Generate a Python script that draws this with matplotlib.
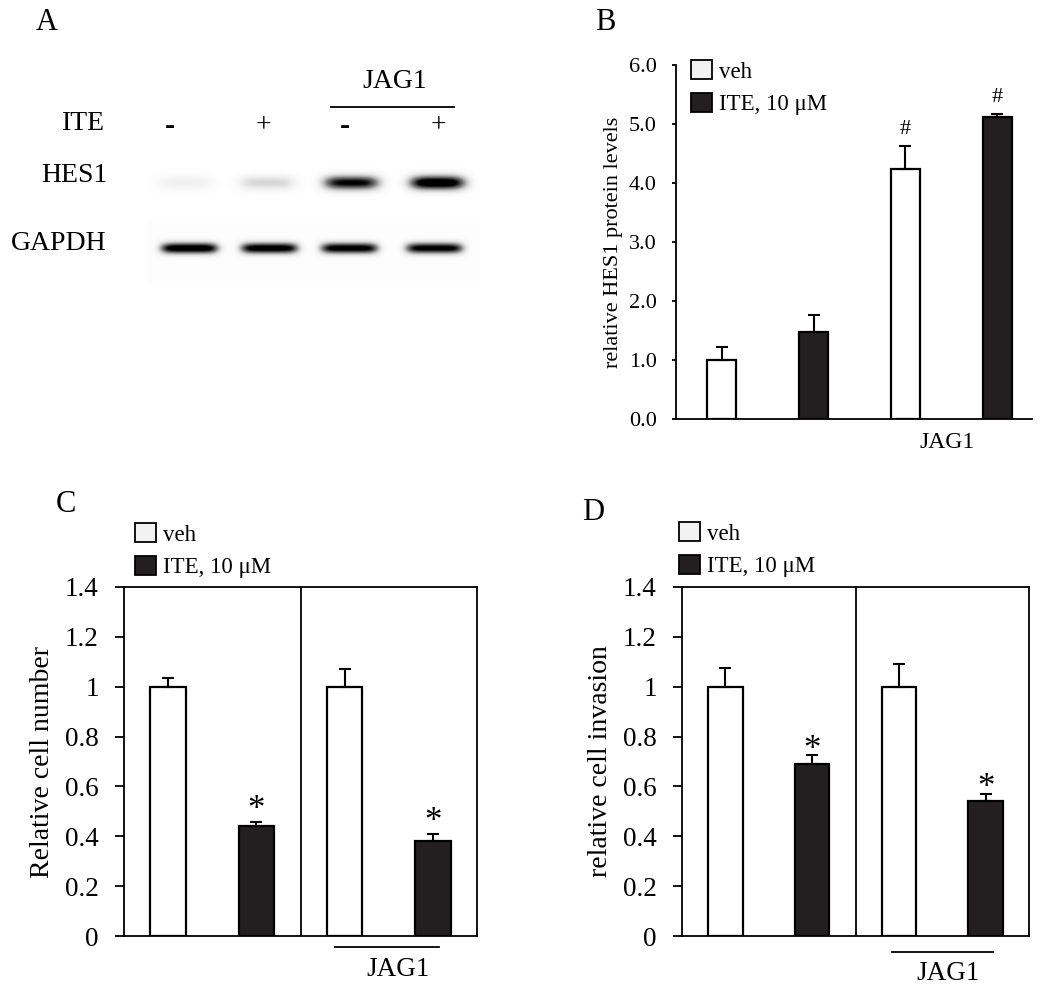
import numpy as np
import matplotlib
matplotlib.use('Agg')
import matplotlib.pyplot as plt
from matplotlib.patches import Patch
from matplotlib.lines import Line2D

plt.rcParams['font.family'] = ['Liberation Serif', 'DejaVu Serif']

W, H = 1050, 1001

# Panel A: western blot, band strengths (0 = no band, 1 = saturated)
ite_signs = ['-', '+', '-', '+']
hes1_strength = [0.10, 0.22, 0.85, 1.0]
gapdh_strength = [0.95, 0.92, 0.90, 0.88]
blot_rows = ['HES1', 'GAPDH']

# Panel B: relative HES1 protein levels
b_veh = [1.0, 4.24]
b_veh_err = [0.22, 0.39]
b_ite = [1.48, 5.12]
b_ite_err = [0.29, 0.05]
b_ticks = [0, 1, 2, 3, 4, 5, 6]

# Panel C: relative cell number
c_veh = [1.0, 1.0]
c_veh_err = [0.035, 0.07]
c_ite = [0.44, 0.38]
c_ite_err = [0.018, 0.028]

# Panel D: relative cell invasion
d_veh = [1.0, 1.0]
d_veh_err = [0.075, 0.09]
d_ite = [0.69, 0.54]
d_ite_err = [0.036, 0.03]

cd_ticks = [0, 0.2, 0.4, 0.6, 0.8, 1.0, 1.2, 1.4]
cd_ticklabels = ['0', '0.2', '0.4', '0.6', '0.8', '1', '1.2', '1.4']
legend_labels = ['veh', 'ITE, 10 \u03bcM']

DARK = '#231f20'


def fx(x):
    return x / W


def fy(y):
    return 1 - y / H


def axes_px(left, top, right, bottom):
    return fig.add_axes([left / W, 1 - bottom / H, (right - left) / W, (bottom - top) / H])


def fig_text(x, y, s, size, **kw):
    fig.text(fx(x), fy(y), s, fontsize=size, ha=kw.pop('ha', 'center'), va=kw.pop('va', 'center'), **kw)


def fig_line(x0, x1, y):
    fig.add_artist(Line2D([fx(x0), fx(x1)], [fy(y), fy(y)], color='black', lw=1.3,
                          transform=fig.transFigure))


def draw_bars(ax, veh, veh_err, ite, ite_err, width):
    veh_x = np.array([0, 2])
    ite_x = np.array([1, 3])
    ax.bar(veh_x, veh, width=width, color='white', edgecolor='black', lw=1.6, zorder=2)
    ax.bar(ite_x, ite, width=width, color=DARK, edgecolor='black', lw=1.6, zorder=2)
    for xs, ys, es in [(veh_x, veh, veh_err), (ite_x, ite, ite_err)]:
        ax.errorbar(xs, ys, yerr=[np.zeros(len(ys)), es], fmt='none', ecolor='black',
                    elinewidth=1.5, capsize=4, capthick=1.5, zorder=3)
    return veh_x, ite_x


def add_legend(ax, x, y, size):
    handles = [Patch(facecolor='#f2f2f2', edgecolor='black', lw=1.3),
               Patch(facecolor=DARK, edgecolor='black', lw=1.3)]
    ax.legend(handles, legend_labels, loc='upper left', bbox_to_anchor=(fx(x), fy(y)),
              bbox_transform=fig.transFigure, frameon=False, fontsize=size,
              handlelength=0.92, handleheight=0.92, handletextpad=0.3,
              labelspacing=0.45, borderpad=0, borderaxespad=0)


fig = plt.figure(figsize=(W / 100, H / 100), dpi=100)

# ---------------- Panel A ----------------
axA = axes_px(0, 0, 520, 300)
axA.set_xlim(0, 520)
axA.set_ylim(300, 0)
axA.axis('off')

hes1_x = [185, 267, 351, 437]
gapdh_x = [189, 269, 349, 434]
gx, gy = np.meshgrid(np.arange(140, 490), np.arange(150, 290))
blot = np.zeros(gx.shape)
blot[(gx > 147) & (gx < 480) & (gy > 218) & (gy < 285)] = 0.012
for cx, s in zip(hes1_x, hes1_strength):
    blot += s * np.exp(-((gx - cx) / 28) ** 4) * np.exp(-((gy - 183) / 7) ** 2)
for cx, s in zip(gapdh_x, gapdh_strength):
    blot += s * np.exp(-((gx - cx) / 29) ** 6) * np.exp(-((gy - 248) / 5.5) ** 2)
axA.imshow(np.clip(blot * 1.2, 0, 1), cmap='Greys', vmin=0, vmax=1,
           extent=(140, 490, 290, 150), aspect='auto', interpolation='bilinear')

axA.text(47, 23, 'A', fontsize=22, ha='center', va='center')
axA.text(395, 82, 'JAG1', fontsize=20, ha='center', va='center')
axA.plot([331, 454], [107, 107], color='black', lw=1.3)
axA.text(105, 123, 'ITE', fontsize=20, ha='right', va='center')
sign_x = [170, 263, 345, 438]
for sx, sign in zip(sign_x, ite_signs):
    if sign == '-':
        axA.text(sx, 127, '-', fontsize=22, fontweight='bold', ha='center', va='center')
    else:
        axA.text(sx, 126, '+', fontsize=20, ha='center', va='center')
axA.text(108, 175, blot_rows[0], fontsize=20, ha='right', va='center')
axA.text(107, 243, blot_rows[1], fontsize=20, ha='right', va='center')

# ---------------- Panel B ----------------
axB = axes_px(676, 65, 1032, 419)
veh_x, ite_x = draw_bars(axB, b_veh, b_veh_err, b_ite, b_ite_err, 0.315)
axB.set_xlim(-0.5, 3.38)
axB.set_ylim(0, 6)
axB.set_yticks(b_ticks)
axB.set_yticklabels(['%.1f' % t for t in b_ticks])
axB.set_xticks([])
for side in ['top', 'right']:
    axB.spines[side].set_visible(False)
for side in ['left', 'bottom']:
    axB.spines[side].set_linewidth(1.3)
axB.tick_params(axis='y', direction='out', length=3, width=1.3, labelsize=16, pad=11)
axB.set_ylabel('relative HES1 protein levels', fontsize=16)
axB.yaxis.set_label_coords(-0.15, 0.5)
for x, v, e in [(veh_x[1], b_veh[1], b_veh_err[1]), (ite_x[1], b_ite[1], b_ite_err[1])]:
    axB.text(x, v + e + 0.12, '#', fontsize=16, ha='center', va='bottom')
add_legend(axB, 691, 60, 16.5)
fig_text(947, 443, 'JAG1', 17)
fig_text(605, 23, 'B', 22)


# ---------------- Panels C and D ----------------
def cell_panel(box, veh, veh_err, ite, ite_err, ylabel, label_x, star_gap):
    ax = axes_px(*box)
    veh_x, ite_x = draw_bars(ax, veh, veh_err, ite, ite_err, 0.4)
    ax.set_xlim(-0.5, 3.5)
    ax.set_ylim(0, 1.4)
    ax.axvline(1.5, color='black', lw=1.3)
    ax.set_yticks(cd_ticks)
    ax.set_yticklabels(cd_ticklabels)
    ax.set_xticks([])
    for side in ax.spines.values():
        side.set_linewidth(1.3)
    ax.tick_params(axis='y', direction='out', length=6.7, width=1.3, labelsize=19.5, pad=11.5)
    ax.set_ylabel(ylabel, fontsize=20)
    ax.yaxis.set_label_coords(label_x, 0.5)
    for x, v, e in zip(ite_x, ite, ite_err):
        ax.text(x, v + e + star_gap, '*', fontsize=25, ha='center', va='baseline')
    return ax


axC = cell_panel((124, 587, 477, 936), c_veh, c_veh_err, c_ite, c_ite_err,
                 'Relative cell number', -0.195, 0.012)
add_legend(axC, 135, 523, 16.5)
fig_line(335, 439, 947)
fig_text(398, 970, 'JAG1', 19.5)
fig_text(66, 505, 'C', 22)

axD = cell_panel((682, 587, 1029, 936), d_veh, d_veh_err, d_ite, d_ite_err,
                 'relative cell invasion', -0.2, -0.014)
add_legend(axD, 679, 522, 16.5)
fig_line(892, 993, 952)
fig_text(948, 974, 'JAG1', 19.5)
fig_text(593, 513, 'D', 22)

fig.savefig('out.png', dpi=100, facecolor='white')
